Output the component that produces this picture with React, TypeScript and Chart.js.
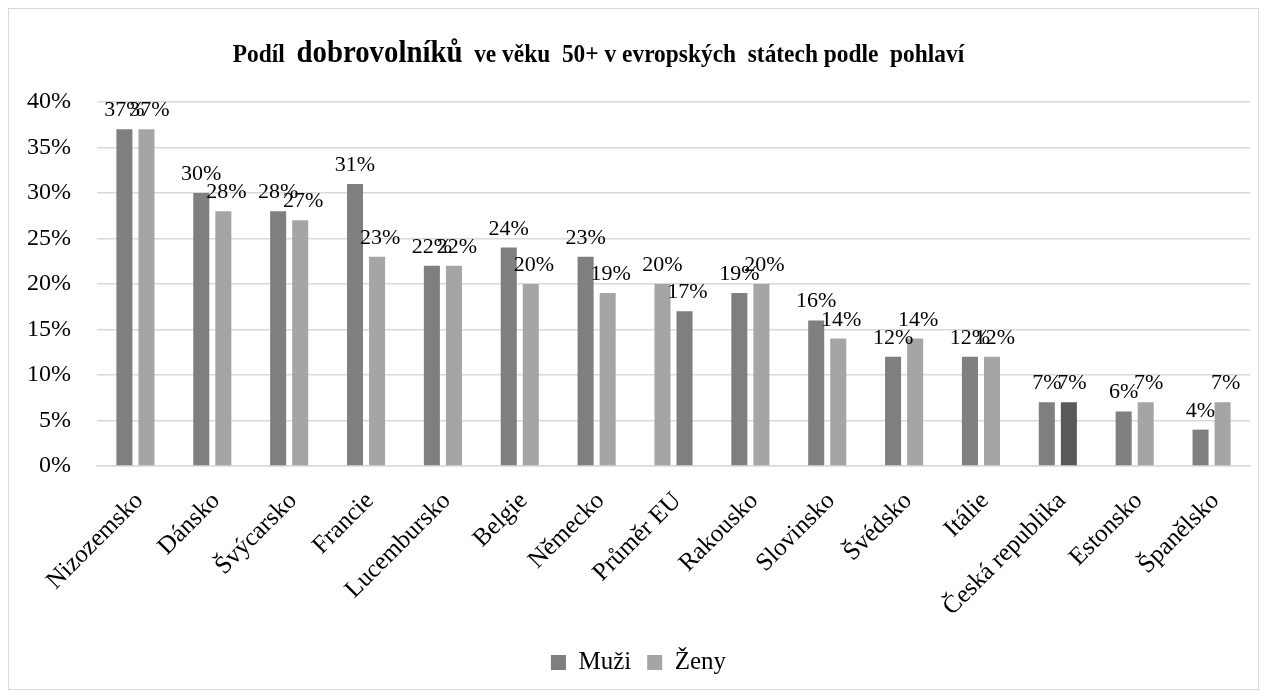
import React, { useEffect, useRef } from "react";
import { Chart, registerables } from "chart.js";

Chart.register(...registerables);

const categories = [
  "Nizozemsko", "Dánsko", "Švýcarsko", "Francie", "Lucembursko", "Belgie", "Německo",
  "Průměr EU", "Rakousko", "Slovinsko", "Švédsko", "Itálie", "Česká republika", "Estonsko", "Španělsko",
];
const muzi = [37, 30, 28, 31, 22, 24, 23, 20, 19, 16, 12, 12, 7, 6, 4];
const zeny = [37, 28, 27, 23, 22, 20, 19, 17, 20, 14, 14, 12, 7, 7, 7];
const muziColors = ["#7f7f7f", "#7f7f7f", "#7f7f7f", "#7f7f7f", "#7f7f7f", "#7f7f7f", "#7f7f7f", "#a5a5a5", "#7f7f7f", "#7f7f7f", "#7f7f7f", "#7f7f7f", "#7f7f7f", "#7f7f7f", "#7f7f7f"];
const zenyColors = ["#a5a5a5", "#a5a5a5", "#a5a5a5", "#a5a5a5", "#a5a5a5", "#a5a5a5", "#a5a5a5", "#7f7f7f", "#a5a5a5", "#a5a5a5", "#a5a5a5", "#a5a5a5", "#595959", "#a5a5a5", "#a5a5a5"];
const titleParts = [
  { text: "Podíl  ", size: 26 },
  { text: "dobrovolníků", size: 32 },
  { text: "  ve věku  50+ v evropských  státech podle  pohlaví", size: 26 },
];

const FONT = "'Liberation Serif', 'Times New Roman', serif";

const titlePlugin = {
  id: "mixedTitle",
  afterDraw(chart: any) {
    const ctx = chart.ctx;
    const sx = 0.9;
    ctx.save();
    ctx.fillStyle = "#000";
    ctx.textBaseline = "alphabetic";
    ctx.textAlign = "left";
    let total = 0;
    const widths = titleParts.map((p) => {
      ctx.font = `bold ${p.size}px ${FONT}`;
      const w = ctx.measureText(p.text).width * sx;
      total += w;
      return w;
    });
    let x = chart.width / 2 - 35 - total / 2;
    titleParts.forEach((p, i) => {
      ctx.font = `bold ${p.size}px ${FONT}`;
      ctx.save();
      ctx.translate(x, 53);
      ctx.scale(sx, 1);
      ctx.fillText(p.text, 0, 0);
      ctx.restore();
      x += widths[i];
    });
    ctx.restore();
  },
};

const xLabelPlugin = {
  id: "xLabels",
  afterDraw(chart: any) {
    const ctx = chart.ctx;
    const xs = chart.scales.x;
    ctx.save();
    ctx.fillStyle = "#000";
    ctx.font = `25px ${FONT}`;
    ctx.textAlign = "right";
    ctx.textBaseline = "middle";
    chart.data.labels.forEach((lab: string, i: number) => {
      const x = xs.getPixelForTick(i);
      ctx.save();
      ctx.translate(x + 4, xs.top + 31);
      ctx.rotate(-Math.PI / 4);
      ctx.fillText(lab, 0, 0);
      ctx.restore();
    });
    ctx.restore();
  },
};

const labelPlugin = {
  id: "barLabels",
  afterDatasetsDraw(chart: any) {
    const ctx = chart.ctx;
    ctx.save();
    ctx.fillStyle = "#000";
    ctx.font = `22px ${FONT}`;
    ctx.textAlign = "center";
    ctx.textBaseline = "alphabetic";
    chart.data.datasets.forEach((ds: any, di: number) => {
      const meta = chart.getDatasetMeta(di);
      meta.data.forEach((bar: any, i: number) => {
        ctx.fillText(ds.data[i] + "%", bar.x + (di === 1 ? 3 : 0), bar.y - 13);
      });
    });
    ctx.restore();
  },
};

export default function App() {
  const ref = useRef<HTMLCanvasElement>(null);
  useEffect(() => {
    if (!ref.current) return;
    const chart = new Chart(ref.current, {
      type: "bar",
      data: {
        labels: categories,
        datasets: [
          { label: "Muži", data: muzi, backgroundColor: muziColors, categoryPercentage: 0.574, barPercentage: 0.727 },
          { label: "Ženy", data: zeny, backgroundColor: zenyColors, categoryPercentage: 0.574, barPercentage: 0.727 },
        ],
      },
      options: {
        animation: false,
        responsive: true,
        maintainAspectRatio: false,
        layout: { padding: { top: 93, left: 18, right: 8, bottom: 4 } },
        plugins: {
          title: { display: false },
          tooltip: { enabled: false },
          legend: {
            position: "bottom",
            labels: {
              boxWidth: 15,
              boxHeight: 15,
              color: "#000",
              font: { family: FONT, size: 25 },
              padding: 16,
            },
          },
        },
        scales: {
          x: {
            grid: { display: false },
            border: { color: "#d9d9d9", width: 1.5 },
            ticks: { display: false },
            afterFit: (s: any) => {
              s.height = 168;
            },
          },
          y: {
            min: 0,
            max: 40,
            border: { display: false },
            grid: { color: "#d9d9d9", lineWidth: 1.5, drawTicks: false },
            ticks: {
              stepSize: 5,
              padding: 26,
              color: "#000",
              font: { family: FONT, size: 24 },
              callback: (v: any) => v + "%",
            },
            afterFit: (s: any) => {
              s.width = 70;
            },
          },
        },
      },
      plugins: [titlePlugin, labelPlugin, xLabelPlugin],
    });
    return () => chart.destroy();
  }, []);
  return (
    <div style={{ border: "1px solid #d9d9d9", height: 680, position: "relative" }}>
      <canvas ref={ref} />
    </div>
  );
}
